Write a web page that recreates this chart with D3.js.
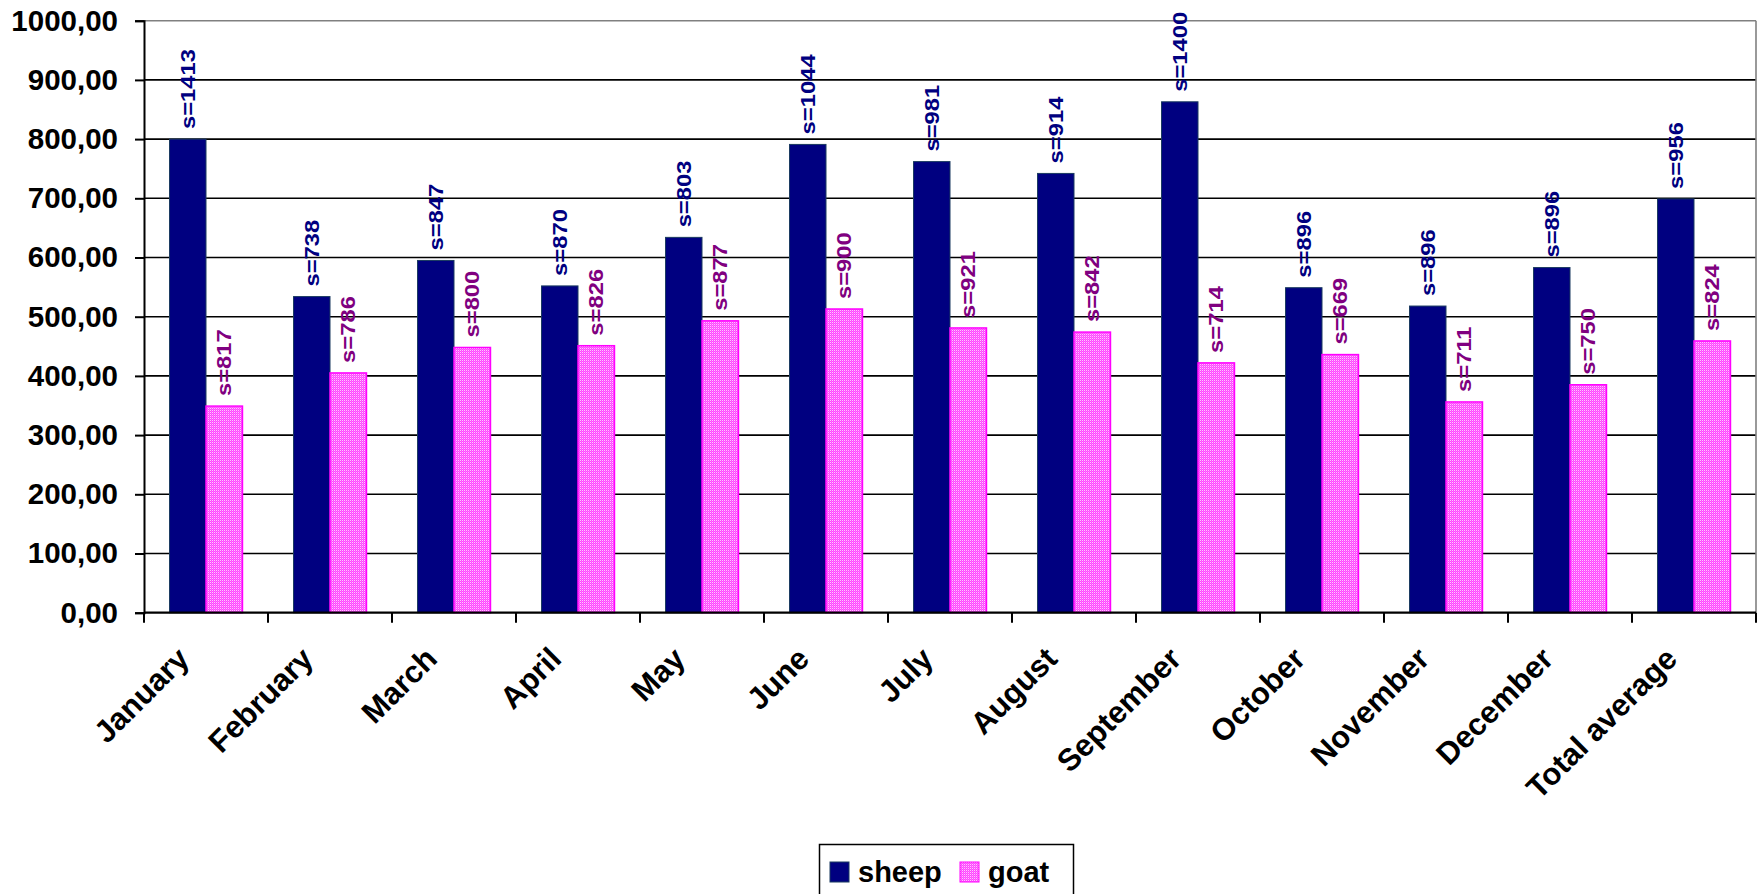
<!DOCTYPE html>
<html>
<head>
<meta charset="utf-8">
<script src="https://cdn.jsdelivr.net/npm/d3@7"></script>
<style>
  html, body { margin: 0; padding: 0; background: #fff; }
  svg { display: block; }
  text { font-family: "Liberation Sans", Arial, sans-serif; font-weight: bold; }
</style>
</head>
<body>
<svg id="chart" width="1758" height="894"></svg>
<script>
// ---- data ----
const categories = ["January","February","March","April","May","June","July","August","September","October","November","December","Total average"];
const seriesNames = ["sheep","goat"];
const sheepValues = [800, 534, 595, 552, 634, 791, 762, 742, 863, 549, 518, 583, 699];
const goatValues  = [349, 405, 448, 451, 493, 513, 481, 474, 422, 436, 356, 385, 459];
const sheepLabels = ["s=1413","s=738","s=847","s=870","s=803","s=1044","s=981","s=914","s=1400","s=896","s=896","s=896","s=956"];
const goatLabels  = ["s=817","s=786","s=800","s=826","s=877","s=900","s=921","s=842","s=714","s=669","s=711","s=750","s=824"];
const yTicks = [0,100,200,300,400,500,600,700,800,900,1000];

// ---- layout ----
const svg = d3.select("#chart");
const plot = {left: 144, right: 1756, top: 20.7, bottom: 612.7};

const x0 = d3.scaleBand().domain(categories).range([plot.left, plot.right]).padding(0);
const x1 = d3.scaleBand().domain(seriesNames).range([0, x0.bandwidth()]).paddingInner(0).paddingOuter(0.7);
const y = d3.scaleLinear().domain([0, 1000]).range([plot.bottom, plot.top]);

// pattern for goat
const defs = svg.append("defs");
const pat = defs.append("pattern").attr("id","goatPat").attr("patternUnits","userSpaceOnUse")
  .attr("width",2).attr("height",2);
pat.append("rect").attr("width",2).attr("height",2).attr("fill","#ff44ff");
pat.append("rect").attr("x",0).attr("y",0).attr("width",1).attr("height",1).attr("fill","#ffc8ff");
pat.append("rect").attr("x",1).attr("y",1).attr("width",1).attr("height",1).attr("fill","#ff70ff");

// gridlines
svg.append("g").selectAll("line").data(yTicks.filter(d => d > 0 && d < 1000)).join("line")
  .attr("x1", plot.left).attr("x2", plot.right)
  .attr("y1", d => y(d)).attr("y2", d => y(d))
  .attr("stroke", "#000").attr("stroke-width", 1.6);

// plot border (top & right grey)
svg.append("line").attr("x1", plot.left).attr("x2", plot.right).attr("y1", y(1000)).attr("y2", y(1000))
  .attr("stroke", "#808080").attr("stroke-width", 1.6);
svg.append("line").attr("x1", plot.right).attr("x2", plot.right).attr("y1", y(1000)).attr("y2", plot.bottom)
  .attr("stroke", "#808080").attr("stroke-width", 1.6);

// bars
const data = categories.map((c, i) => ({cat: c, sheep: sheepValues[i], goat: goatValues[i], sl: sheepLabels[i], gl: goatLabels[i]}));
const groups = svg.append("g").selectAll("g").data(data).join("g")
  .attr("transform", d => `translate(${x0(d.cat)},0)`);

groups.append("rect")
  .attr("x", x1("sheep")).attr("width", x1.bandwidth())
  .attr("y", d => y(d.sheep)).attr("height", d => y(0) - y(d.sheep))
  .attr("fill", "#000080").attr("stroke", "#1a3a60").attr("stroke-width", 1);

groups.append("rect")
  .attr("x", x1("goat")).attr("width", x1.bandwidth())
  .attr("y", d => y(d.goat)).attr("height", d => y(0) - y(d.goat))
  .attr("fill", "url(#goatPat)").attr("stroke", "#ff00ff").attr("stroke-width", 1.5);

// data labels
groups.append("text")
  .attr("transform", d => `translate(${x1("sheep") + x1.bandwidth()/2},${y(d.sheep) - 10}) rotate(-90) scale(1.22,1)`)
  .attr("dy", "0.36em").attr("text-anchor", "start")
  .attr("font-size", 19.5).attr("fill", "#000080")
  .text(d => d.sl);

groups.append("text")
  .attr("transform", d => `translate(${x1("goat") + x1.bandwidth()/2},${y(d.goat) - 10}) rotate(-90) scale(1.22,1)`)
  .attr("dy", "0.36em").attr("text-anchor", "start")
  .attr("font-size", 19.5).attr("fill", "#800080")
  .text(d => d.gl);

// y axis
const yAxis = svg.append("g").attr("transform", `translate(${plot.left},0)`)
  .call(d3.axisLeft(y).tickValues(yTicks).tickSize(9).tickPadding(17)
    .tickFormat(d => d3.format(".2f")(d).replace(".", ",")));
yAxis.select(".domain").attr("stroke", "#000").attr("stroke-width", 2);
yAxis.selectAll(".tick line").attr("stroke", "#000").attr("stroke-width", 2);
yAxis.selectAll(".tick text").attr("font-size", 29.5).attr("fill", "#000")
  .attr("font-family", "Liberation Sans, Arial, sans-serif").attr("font-weight", "bold");

// x axis
const xAxisG = svg.append("g").attr("transform", `translate(0,${plot.bottom})`);
xAxisG.append("line").attr("x1", plot.left).attr("x2", plot.right).attr("y1", 0).attr("y2", 0)
  .attr("stroke", "#000").attr("stroke-width", 2.2);
const boundaries = categories.map(c => x0(c)).concat([x0(categories[categories.length-1]) + x0.bandwidth()]);
xAxisG.selectAll("line.tk").data(boundaries).join("line").attr("class","tk")
  .attr("x1", d => d).attr("x2", d => d).attr("y1", 0).attr("y2", 10)
  .attr("stroke", "#000").attr("stroke-width", 2);
xAxisG.selectAll("text").data(categories).join("text")
  .attr("transform", d => `translate(${x0(d) + x0.bandwidth()/2 - 15},48) rotate(-45)`)
  .attr("text-anchor", "end").attr("font-size", 31).attr("fill", "#000")
  .text(d => d);

// legend
const lg = svg.append("g");
lg.append("rect").attr("x", 819.5).attr("y", 844.5).attr("width", 254).attr("height", 60)
  .attr("fill", "#fff").attr("stroke", "#000").attr("stroke-width", 1.5);
const legendItems = [
  {name: seriesNames[0], sx: 830, tx: 858, fill: "#000080", stroke: "#1a3a60"},
  {name: seriesNames[1], sx: 960, tx: 988, fill: "url(#goatPat)", stroke: "#ff00ff"}
];
legendItems.forEach(it => {
  lg.append("rect").attr("x", it.sx).attr("y", 862).attr("width", 19).attr("height", 20)
    .attr("fill", it.fill).attr("stroke", it.stroke).attr("stroke-width", 1);
  lg.append("text").attr("x", it.tx).attr("y", 882).attr("font-size", 29).attr("fill", "#000").text(it.name);
});
</script>
</body>
</html>
